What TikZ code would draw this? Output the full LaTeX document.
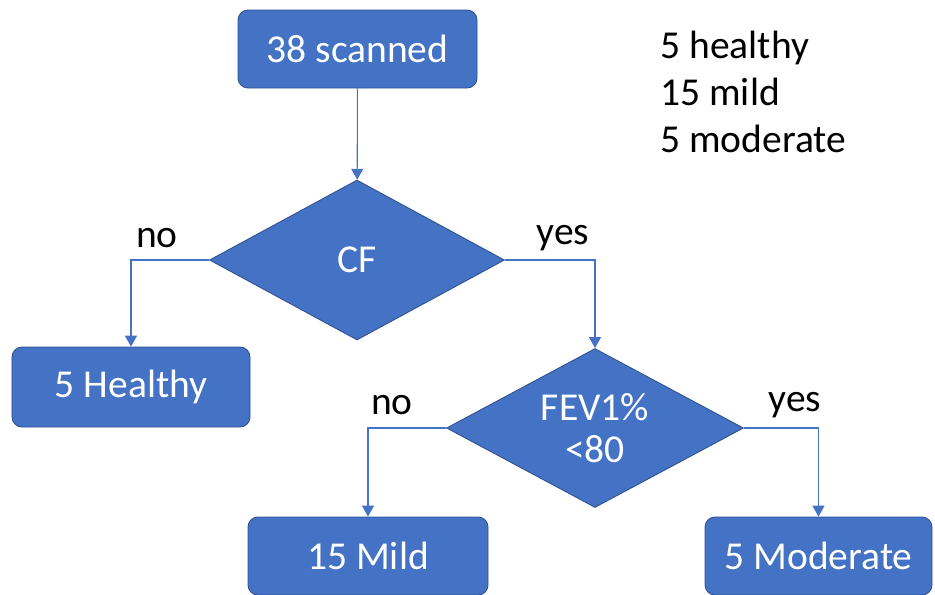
\documentclass[tikz,border=0pt]{standalone}
\usepackage{fontspec}
\setmainfont{Carlito}
\usetikzlibrary{arrows.meta,shapes.geometric}

\definecolor{boxblue}{HTML}{4472C4}
\definecolor{rimblue}{HTML}{2F528F}

\tikzset{
	box/.style={draw=rimblue, line width=0.5pt, fill=boxblue, text=white, rounded corners=0.2cm, minimum height=1.56cm},
	choice/.style={diamond, aspect=1.85, draw=rimblue, line width=0.5pt, fill=boxblue, text=white, inner sep=0pt, align=center},
	link/.style={draw=boxblue, line width=0.6pt, -{Triangle[width=6.8pt,length=6.2pt]}},
	tag/.style={text=black}
}

\begin{document}
\begin{tikzpicture}[font=\fontsize{22.5}{26.5}\selectfont]
		%%%%% START %%%%%
		\useasboundingbox (0, 0) rectangle (18.7, -11.88);
		
		% boxes and questions
		\node[box, minimum width=4.78cm] (scanned) at (7.15, -0.98) {38 scanned};
		\node[choice, minimum width=5.9cm, minimum height=3.2cm] (cf) at (7.14, -5.2) {CF};
		\node[box, minimum width=4.76cm, minimum height=1.6cm] (healthy) at (2.62, -7.74) {5 Healthy};
		\node[choice, minimum width=5.94cm, minimum height=3.18cm] (fev) at (11.9, -8.56) {FEV1\%\\[-0.1cm]<80};
		\node[box, minimum width=4.8cm] (mild) at (7.36, -11.12) {15 Mild};
		\node[box, minimum width=4.54cm] (moderate) at (16.37, -11.12) {5 Moderate};
		
		% arrows
		\draw[link] (scanned) -- (cf);
		\draw[link] (cf.west) -| (healthy.north);
		\draw[link] (cf.east) -| (fev.north);
		\draw[link] (fev.west) -| (mild.north);
		\draw[link] (fev.east) -| (moderate.north);
		
		% answers
		\node[tag] (cfno) at (3.14, -4.76) {no};
		\node[tag] (cfyes) at (11.26, -4.76) {yes};
		\node[tag] (fevno) at (7.84, -8.1) {no};
		\node[tag] (fevyes) at (15.9, -8.1) {yes};
		
		% counts
		\node[tag, inner sep=0pt, anchor=base west] (nhealthy) at (13.2, -1.16) {5 healthy};
		\node[tag, inner sep=0pt, anchor=base west] (nmild) at (13.2, -2.1) {15 mild};
		\node[tag, inner sep=0pt, anchor=base west] (nmoderate) at (13.2, -3.04) {5 moderate};
		
		%%%%% END %%%%%
	\end{tikzpicture}
\end{document}
